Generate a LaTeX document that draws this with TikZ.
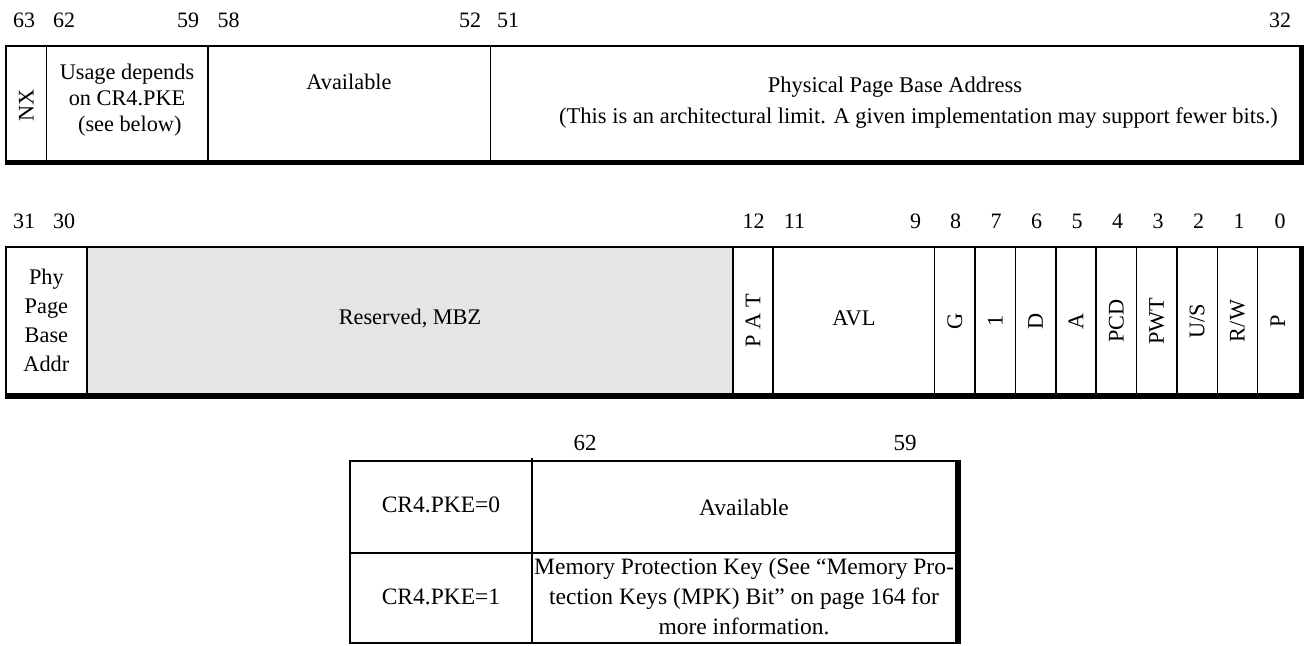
\documentclass[tikz,border=0pt]{standalone}
\usepackage{fontspec}
\setmainfont{Liberation Serif}
\begin{document}
\begin{tikzpicture}[x=1pt,y=1pt,
  cell/.style={line width=1.5pt, line cap=rect},
  thickbar/.style={fill=black},
  bitlbl/.style={font=\fontsize{22}{24}\selectfont, inner sep=0pt},
  txt/.style={font=\fontsize{22.3}{26}\selectfont, inner sep=0pt, align=center},
  tabtxt/.style={font=\fontsize{23.5}{30}\selectfont, inner sep=0pt, align=center},
  rot/.style={txt, rotate=90}]
\useasboundingbox (0,0) rectangle (1305,-645);

% ---------- Row 1 (bits 63..32) ----------
\draw[cell] (6,-46) rectangle (1301,-162);
\foreach \x in {46.375,207.875,490.5}{\draw[cell] (\x,-46) -- (\x,-162);}
\fill[thickbar] (4.5,-159.5) rectangle (1304,-165);
\fill[thickbar] (1298.5,-45.25) rectangle (1304,-165);

\node[bitlbl] (l63) at (24,-20) {63};
\node[bitlbl] (l62) at (64,-20) {62};
\node[bitlbl] (l59) at (188,-20) {59};
\node[bitlbl] (l58) at (228.5,-20) {58};
\node[bitlbl] (l52) at (470,-20) {52};
\node[bitlbl] (l51) at (508,-20) {51};
\node[bitlbl] (l32) at (1280,-20) {32};

\node[rot] (nx) at (26.2,-105) {NX};
\node[txt] (usage) at (127,-100) {Usage depends\\on CR4.PKE\\\ (see below)};
\node[txt] (avail1) at (349,-82) {Available};
\node[txt, font=\fontsize{22.5}{26}\selectfont] (ppba) at (895,-87) {Physical Page Base Address};
\node[txt, font=\fontsize{22.5}{26}\selectfont, anchor=west] (limit) at (559,-118) {(This is an architectural limit. A given implementation may support fewer bits.)};

% ---------- Row 2 (bits 31..0) ----------
\fill[black!10] (86.75,-247) rectangle (732.75,-395);
\draw[cell] (6,-247) rectangle (1301,-395);
\foreach \x in {86.75,732.75,773.125,934.625,975,1015.375,1055.75,1096.125,1136.5,1176.875,1217.25,1257.625}{\draw[cell] (\x,-247) -- (\x,-395);}
\fill[thickbar] (4.5,-393) rectangle (1304,-398.5);
\fill[thickbar] (1298.5,-246.25) rectangle (1304,-398.5);

\node[bitlbl] (l31) at (24,-221) {31};
\node[bitlbl] (l30) at (64,-221) {30};
\node[bitlbl] (l12) at (753.5,-221) {12};
\node[bitlbl] (l11) at (794.5,-221) {11};
\node[bitlbl] (l9) at (915.5,-221) {9};
\node[bitlbl] (l8) at (955.5,-221) {8};
\node[bitlbl] (l7) at (996,-221) {7};
\node[bitlbl] (l6) at (1036.5,-221) {6};
\node[bitlbl] (l5) at (1077,-221) {5};
\node[bitlbl] (l4) at (1117.5,-221) {4};
\node[bitlbl] (l3) at (1158,-221) {3};
\node[bitlbl] (l2) at (1198.5,-221) {2};
\node[bitlbl] (l1) at (1239,-221) {1};
\node[bitlbl] (l0) at (1280,-221) {0};

\node[txt, font=\fontsize{22.3}{29}\selectfont] (phy) at (46.4,-320) {Phy\\Page\\Base\\Addr};
\node[txt] (resv) at (410,-318) {Reserved, MBZ};
\node[rot] (pat) at (752.9,-321) {P A T};
\node[txt] (avl) at (853.9,-318) {AVL};
\node[rot] (g) at (954.8,-321) {G};
\node[rot] (one) at (995.2,-321) {1};
\node[rot] (d) at (1035.6,-321) {D};
\node[rot] (a) at (1075.9,-321) {A};
\node[rot] (pcd) at (1116.3,-321) {PCD};
\node[rot] (pwt) at (1156.7,-321) {PWT};
\node[rot] (us) at (1197.1,-321) {U/S};
\node[rot] (rw) at (1237.4,-321) {R/W};
\node[rot] (p) at (1277.8,-321) {P};

% ---------- Table (bits 62..59) ----------
\draw[cell] (350,-461) rectangle (958,-643);
\draw[cell] (532,-459) -- (532,-643);
\draw[cell] (350,-553) -- (955,-553);
\fill[thickbar] (955,-460) rectangle (961,-644);

\node[bitlbl, font=\fontsize{23}{25}\selectfont] (t62) at (585,-443) {62};
\node[bitlbl, font=\fontsize{23}{25}\selectfont] (t59) at (905,-443) {59};

\node[tabtxt] (pke0) at (441,-505) {CR4.PKE=0};
\node[tabtxt] (avail2) at (744,-507) {Available};
\node[tabtxt] (pke1) at (441,-597) {CR4.PKE=1};
\node[tabtxt] (mpk) at (744,-597) {Memory Protection Key (See “Memory Pro-\\tection Keys (MPK) Bit” on page 164 for\\more information.};
\end{tikzpicture}
\end{document}
